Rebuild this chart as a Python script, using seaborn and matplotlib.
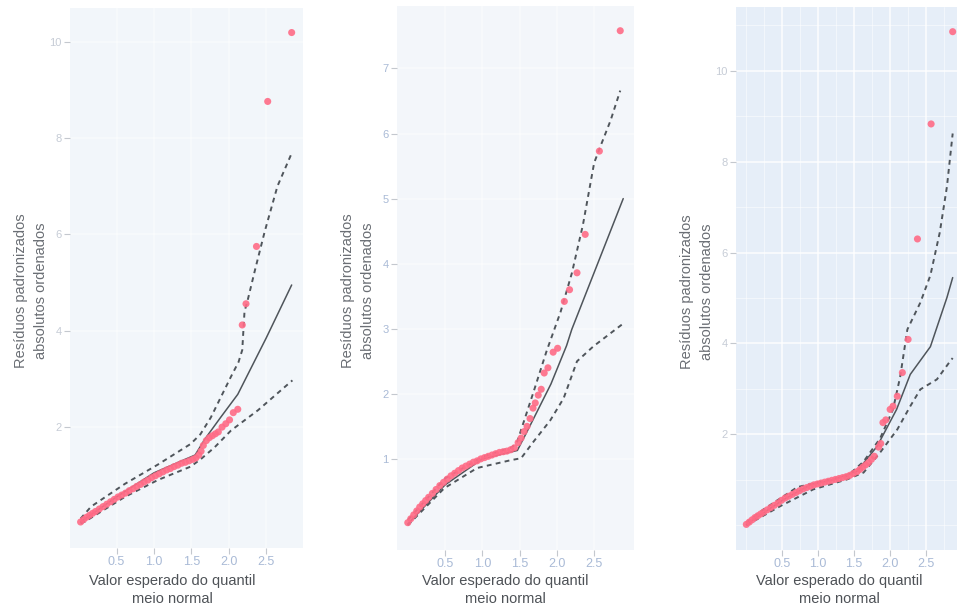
import numpy as np
import pandas as pd
import matplotlib
matplotlib.use("Agg")
import matplotlib.pyplot as plt
from matplotlib.ticker import MultipleLocator
import seaborn as sns

# ---------------- data ----------------
# Panel 1
p1_x = [0.02, 0.06, 0.10, 0.14, 0.18, 0.22, 0.27, 0.32, 0.37, 0.42, 0.47, 0.52, 0.57, 0.62,
        0.67, 0.72, 0.77, 0.82, 0.87, 0.92, 0.97, 1.02, 1.07, 1.12, 1.17, 1.22, 1.27, 1.32,
        1.37, 1.42, 1.47, 1.52, 1.56, 1.60, 1.63, 1.66, 1.70, 1.74, 1.78, 1.82, 1.86, 1.91,
        1.96, 2.01, 2.06, 2.12, 2.18, 2.23, 2.37, 2.52, 2.84]
p1_y = [0.03, 0.08, 0.13, 0.17, 0.21, 0.25, 0.30, 0.35, 0.40, 0.45, 0.50, 0.55, 0.59, 0.63,
        0.68, 0.72, 0.77, 0.81, 0.86, 0.90, 0.95, 0.99, 1.03, 1.07, 1.11, 1.14, 1.18, 1.21,
        1.25, 1.27, 1.30, 1.33, 1.36, 1.42, 1.50, 1.62, 1.72, 1.78, 1.82, 1.86, 1.90, 2.00,
        2.07, 2.15, 2.30, 2.37, 4.12, 4.56, 5.75, 8.76, 10.19]
p1_med_x = [0.02, 0.50, 1.00, 1.40, 1.55, 1.68, 1.89, 2.12, 2.50, 2.84]
p1_med_y = [0.03, 0.55, 1.05, 1.32, 1.42, 1.75, 2.20, 2.68, 3.85, 4.95]
p1_hi_x = [0.02, 0.16, 0.61, 1.05, 1.49, 1.62, 1.76, 2.03, 2.13, 2.18, 2.21, 2.25, 2.35, 2.48, 2.65, 2.85]
p1_hi_y = [0.10, 0.35, 0.82, 1.22, 1.65, 1.85, 2.20, 3.05, 3.35, 3.60, 4.40, 4.62, 5.26, 6.06, 7.00, 7.72]
p1_lo_x = [0.02, 0.08, 0.61, 1.05, 1.49, 1.63, 1.81, 2.03, 2.39, 2.79, 2.85]
p1_lo_y = [0.00, 0.04, 0.55, 0.90, 1.18, 1.34, 1.58, 1.93, 2.35, 2.89, 2.97]

# Panel 2
p2_x = [0.00, 0.04, 0.08, 0.12, 0.16, 0.20, 0.24, 0.28, 0.33, 0.38, 0.43, 0.48, 0.53, 0.58,
        0.63, 0.68, 0.73, 0.78, 0.83, 0.88, 0.93, 0.98, 1.03, 1.08, 1.13, 1.18, 1.23, 1.28,
        1.33, 1.38, 1.43, 1.48, 1.52, 1.56, 1.60, 1.64, 1.68, 1.71, 1.75, 1.79, 1.83, 1.88,
        1.95, 2.01, 2.10, 2.17, 2.27, 2.38, 2.57, 2.85]
p2_y = [0.02, 0.08, 0.14, 0.20, 0.26, 0.31, 0.36, 0.41, 0.47, 0.53, 0.59, 0.64, 0.69, 0.74,
        0.78, 0.82, 0.86, 0.89, 0.92, 0.95, 0.97, 1.00, 1.02, 1.04, 1.06, 1.08, 1.10, 1.11,
        1.12, 1.14, 1.17, 1.25, 1.32, 1.42, 1.50, 1.62, 1.78, 1.86, 1.98, 2.07, 2.32, 2.40,
        2.64, 2.70, 3.42, 3.60, 3.86, 4.45, 5.73, 7.58]
p2_med_x = [0.00, 0.50, 1.00, 1.47, 1.60, 1.92, 2.13, 2.20, 2.89]
p2_med_y = [0.00, 0.60, 1.00, 1.13, 1.42, 2.15, 2.74, 2.99, 5.00]
p2_hi_x = [0.00, 0.50, 1.00, 1.40, 1.47, 1.69, 1.86, 2.05, 2.20, 2.35, 2.50, 2.60, 2.72, 2.85]
p2_hi_y = [0.06, 0.70, 1.03, 1.18, 1.27, 2.04, 2.65, 3.26, 3.85, 4.60, 5.55, 5.85, 6.20, 6.66]
p2_lo_x = [0.00, 0.49, 0.93, 1.38, 1.52, 1.69, 1.91, 2.09, 2.27, 2.49, 2.89]
p2_lo_y = [-0.02, 0.55, 0.86, 0.98, 1.01, 1.27, 1.59, 1.93, 2.50, 2.73, 3.08]

# Panel 3
p3_x = [0.00, 0.04, 0.08, 0.12, 0.16, 0.20, 0.24, 0.29, 0.34, 0.39, 0.44, 0.49, 0.54, 0.59,
        0.64, 0.69, 0.74, 0.79, 0.84, 0.89, 0.94, 0.99, 1.04, 1.09, 1.14, 1.19, 1.24, 1.29,
        1.34, 1.39, 1.44, 1.49, 1.54, 1.58, 1.62, 1.66, 1.70, 1.74, 1.78, 1.84, 1.87, 1.90,
        1.94, 2.00, 2.04, 2.10, 2.17, 2.25, 2.38, 2.57, 2.87]
p3_y = [0.02, 0.07, 0.12, 0.17, 0.21, 0.25, 0.29, 0.34, 0.39, 0.44, 0.49, 0.55, 0.60, 0.64,
        0.68, 0.72, 0.76, 0.80, 0.83, 0.86, 0.89, 0.91, 0.93, 0.95, 0.97, 0.99, 1.01, 1.03,
        1.05, 1.07, 1.10, 1.14, 1.18, 1.23, 1.28, 1.33, 1.38, 1.45, 1.52, 1.72, 1.80, 2.26,
        2.32, 2.55, 2.62, 2.84, 3.36, 4.09, 6.30, 8.83, 10.86]
p3_med_x = [0.00, 0.50, 0.90, 1.20, 1.54, 1.82, 2.09, 2.28, 2.56, 2.79, 2.87]
p3_med_y = [0.02, 0.55, 0.90, 1.00, 1.19, 1.74, 2.55, 3.32, 3.93, 5.01, 5.45]
p3_hi_x = [0.00, 0.24, 0.71, 1.17, 1.40, 1.63, 1.86, 2.04, 2.14, 2.24, 2.42, 2.56, 2.69, 2.79, 2.87]
p3_hi_y = [0.06, 0.35, 0.84, 1.01, 1.08, 1.40, 1.91, 2.55, 3.27, 4.31, 4.90, 5.50, 6.44, 7.45, 8.62]
p3_lo_x = [0.00, 0.47, 0.93, 1.40, 1.63, 1.86, 2.10, 2.28, 2.42, 2.65, 2.83, 2.87]
p3_lo_y = [0.00, 0.42, 0.79, 1.01, 1.16, 1.60, 2.11, 2.62, 2.99, 3.21, 3.60, 3.68]

x_ticks = [0.5, 1.0, 1.5, 2.0, 2.5]
x_tick_labels = ["0.5", "1.0", "1.5", "2.0", "2.5"]
p1_y_ticks = [2, 4, 6, 8, 10]
p2_y_ticks = [1, 2, 3, 4, 5, 6, 7]
p3_y_ticks = [2, 4, 6, 8, 10]

x_title = "Valor esperado do quantil\nmeio normal"
y_title = "Resíduos padronizados\nabsolutos ordenados"

# ---------------- style ----------------
sns.set_theme(style="white")
plt.rcParams["font.family"] = ["Liberation Sans", "DejaVu Sans"]

W, H = 957, 614
fig = plt.figure(figsize=(W / 100, H / 100), dpi=100)
fig.patch.set_facecolor("white")

point_color = "#ff6b86"
line_color = "#4f555b"

panels = [
    dict(pos=(70, 303, 8, 548), bg="#f2f6fa", grid_alpha=0.5, minor=False,
         pts=(p1_x, p1_y), med=(p1_med_x, p1_med_y),
         hi=(p1_hi_x, p1_hi_y), lo=(p1_lo_x, p1_lo_y), yt=p1_y_ticks, ytc="#c6ccd6",
         xlab_shift=-14),
    dict(pos=(397, 634, 6, 550), bg="#f3f6fa", grid_alpha=0.5, minor=False,
         pts=(p2_x, p2_y), med=(p2_med_x, p2_med_y),
         hi=(p2_hi_x, p2_hi_y), lo=(p2_lo_x, p2_lo_y), yt=p2_y_ticks, ytc="#a9bad6",
         xlab_shift=-10),
    dict(pos=(736, 963, 7, 550), bg="#e6eef8", grid_alpha=0.9, minor=True,
         pts=(p3_x, p3_y), med=(p3_med_x, p3_med_y),
         hi=(p3_hi_x, p3_hi_y), lo=(p3_lo_x, p3_lo_y), yt=p3_y_ticks, ytc="#c6ccd6",
         xlab_shift=-10),
]

for p in panels:
    l, r, t, b = p["pos"]
    ax = fig.add_axes([l / W, 1 - b / H, (r - l) / W, (b - t) / H])
    ax.set_facecolor(p["bg"])
    for s in ax.spines.values():
        s.set_visible(False)

    df_pts = pd.DataFrame({"x": p["pts"][0], "y": p["pts"][1]})
    df_med = pd.DataFrame({"x": p["med"][0], "y": p["med"][1]})
    df_hi = pd.DataFrame({"x": p["hi"][0], "y": p["hi"][1]})
    df_lo = pd.DataFrame({"x": p["lo"][0], "y": p["lo"][1]})

    sns.lineplot(data=df_med, x="x", y="y", ax=ax, color=line_color, lw=1.1,
                 estimator=None, sort=False, zorder=2)
    sns.lineplot(data=df_hi, x="x", y="y", ax=ax, color=line_color, lw=1.4,
                 estimator=None, sort=False, linestyle=(0, (2.5, 2.2)), zorder=2)
    sns.lineplot(data=df_lo, x="x", y="y", ax=ax, color=line_color, lw=1.4,
                 estimator=None, sort=False, linestyle=(0, (2.5, 2.2)), zorder=2)
    sns.scatterplot(data=df_pts, x="x", y="y", ax=ax, color=point_color, s=26,
                    edgecolor="none", alpha=0.9, zorder=3)

    ax.margins(0.05)
    ax.set_xticks(x_ticks)
    ax.set_xticklabels(x_tick_labels)
    ax.set_yticks(p["yt"])
    ax.set_yticklabels([str(v) for v in p["yt"]])
    if p["minor"]:
        ax.xaxis.set_minor_locator(MultipleLocator(0.25))
        ax.yaxis.set_minor_locator(MultipleLocator(1))
        ax.grid(True, which="minor", color="white", lw=0.6, alpha=0.6)
        ax.tick_params(which="minor", length=0)
    ax.grid(True, which="major", color="white", lw=1.1, alpha=p["grid_alpha"])
    ax.set_axisbelow(True)
    ax.tick_params(axis="x", colors="#c4c8ce", length=4, width=0.8, pad=2,
                   labelcolor="#a9bad6", labelsize=9, bottom=True)
    ax.tick_params(axis="y", colors="#c4c8ce", length=4, width=0.8, pad=2,
                   labelcolor=p["ytc"], labelsize=8, left=True)
    ax.set_xlabel(x_title, fontsize=10.5, color="#4e5257", linespacing=1.4)
    ax.set_ylabel(y_title, fontsize=10.5, color="#6a6e74", linespacing=1.55)
    # reference labels sit slightly off-centre
    ph = b - t
    ax.xaxis.set_label_coords(0.5 + p["xlab_shift"] / (r - l), -(574 - b) / ph)
    ax.yaxis.set_label_coords(-22 / (r - l), 0.476)

fig.savefig("out.png", dpi=100, facecolor="white")
